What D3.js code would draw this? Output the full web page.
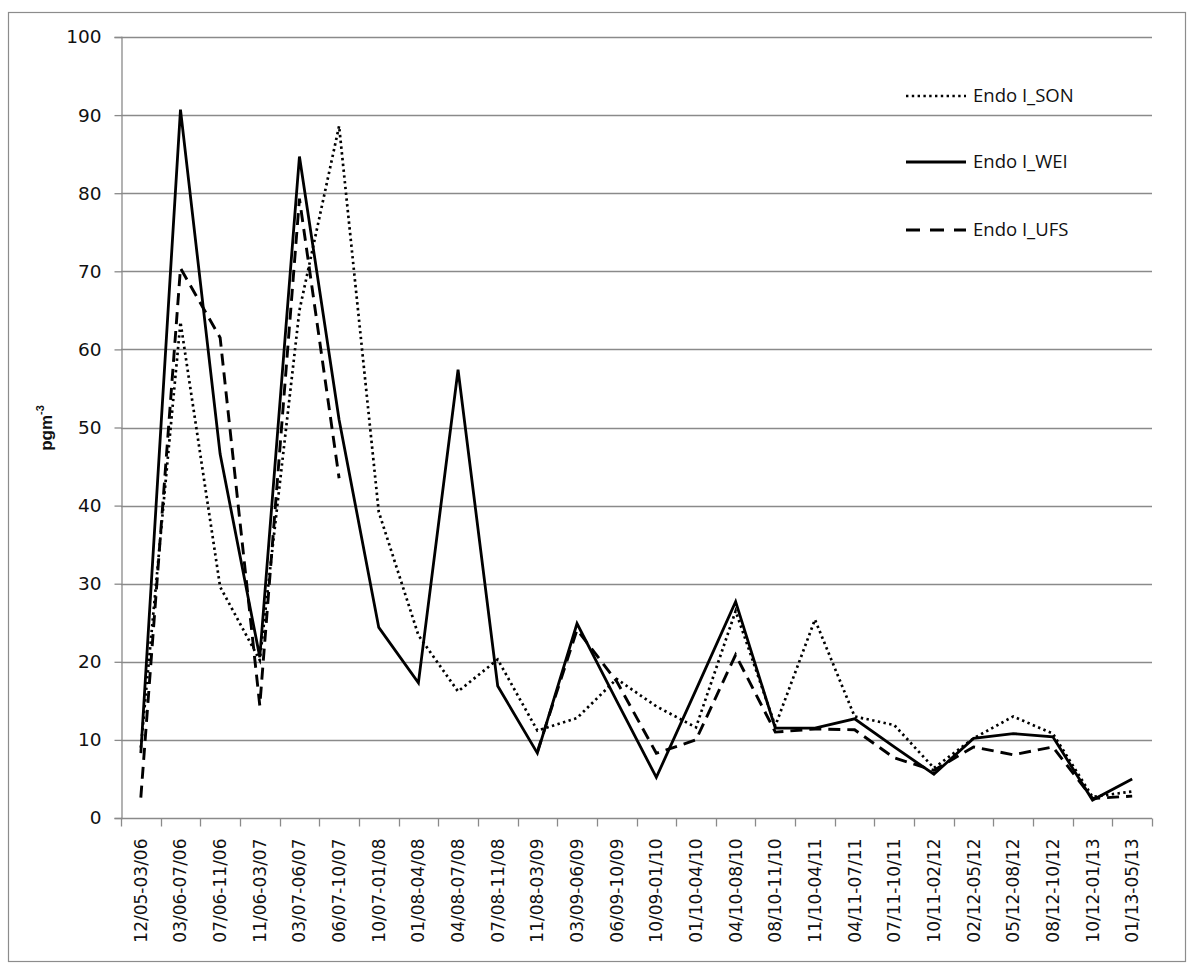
<!DOCTYPE html>
<html>
<head>
<meta charset="utf-8">
<script src="https://cdn.jsdelivr.net/npm/d3@7"></script>
<style>
  html, body { margin: 0; padding: 0; background: #fff; }
  svg { display: block; }
</style>
</head>
<body>
<svg id="chart" width="1191" height="965"></svg>
<script>
// Sampling periods (month/year ranges)
const periods = [
  "12/05-03/06", "03/06-07/06", "07/06-11/06", "11/06-03/07", "03/07-06/07",
  "06/07-10/07", "10/07-01/08", "01/08-04/08", "04/08-07/08", "07/08-11/08",
  "11/08-03/09", "03/09-06/09", "06/09-10/09", "10/09-01/10", "01/10-04/10",
  "04/10-08/10", "08/10-11/10", "11/10-04/11", "04/11-07/11", "07/11-10/11",
  "10/11-02/12", "02/12-05/12", "05/12-08/12", "08/12-10/12", "10/12-01/13",
  "01/13-05/13"
];

// Endosulfan I concentrations, pg/m3 (null = no sample)
const endoSON = [9, 63.5, 29.6, 20.2, 65, 88.6, 39.2, 23.4, 16.2, 20.3,
  11.2, 12.8, 17.8, 14.3, 11.6, 26.5, 11.8, 25.4, 13, 11.9,
  6.4, 10.2, 13, 10.8, 2.7, 3.4];
const endoWEI = [8.3, 90.7, 46.6, 20.6, 84.7, 51, 24.4, 17.3, 57.4, 16.9,
  8.3, 24.9, 15, 5.2, 16.4, 27.7, 11.5, 11.5, 12.7, 9.1,
  5.6, 10.2, 10.8, 10.4, 2.3, 5.0];
const endoUFS = [2.6, 70.4, 61.5, 14.4, 79.3, 43.5, null, null, null, null,
  8.5, 24.1, 17.5, 8.3, 10.0, 20.9, 11.0, 11.4, 11.3, 7.7,
  6.1, 9.1, 8.1, 9.1, 2.5, 2.8];

const yTicks = [0, 10, 20, 30, 40, 50, 60, 70, 80, 90, 100];

const seriesNames = ["Endo I_SON", "Endo I_WEI", "Endo I_UFS"];
const seriesValues = [endoSON, endoWEI, endoUFS];
const seriesDash = ["2.4,3.4", null, "12,7"];
const seriesWidth = [2.7, 2.8, 2.9];
const legendDash = ["2.4,3.4", null, "14,10"];

const svg = d3.select("#chart");
const margin = { left: 121, right: 1152, top: 37, bottom: 818 };

// Outer chart frame
svg.append("rect")
  .attr("x", 8.5).attr("y", 12.5)
  .attr("width", 1177).attr("height", 949)
  .attr("fill", "#fff").attr("stroke", "#8c8c8c").attr("stroke-width", 1.2);

const x = d3.scaleBand().domain(periods).range([margin.left, margin.right]);
const y = d3.scaleLinear().domain([0, 100]).range([margin.bottom, margin.top]);

const gridColor = "#8a8a8a";

// Horizontal gridlines
svg.append("g")
  .selectAll("line")
  .data(yTicks.filter(d => d > 0))
  .join("line")
  .attr("x1", margin.left).attr("x2", margin.right)
  .attr("y1", d => Math.round(y(d)) + 0.5).attr("y2", d => Math.round(y(d)) + 0.5)
  .attr("stroke", gridColor).attr("stroke-width", 1.3);

// Y axis
const yAxis = svg.append("g")
  .attr("transform", `translate(${margin.left + 0.5},0)`)
  .call(d3.axisLeft(y).tickValues(yTicks).tickSize(7).tickPadding(13).tickFormat(d3.format("d")));
yAxis.select(".domain").attr("stroke", gridColor).attr("stroke-width", 1.3);
yAxis.selectAll(".tick line").attr("stroke", gridColor).attr("stroke-width", 1.3);
yAxis.selectAll(".tick text")
  .attr("font-family", "DejaVu Sans, Verdana, sans-serif")
  .attr("font-size", 18.5).attr("fill", "#111");

// X axis with boundary ticks between periods
const xAxisG = svg.append("g").attr("transform", `translate(0,${margin.bottom + 0.5})`);
xAxisG.append("line")
  .attr("x1", margin.left).attr("x2", margin.right)
  .attr("stroke", gridColor).attr("stroke-width", 1.3);
const bounds = d3.range(periods.length + 1).map(i => margin.left + i * x.step());
xAxisG.selectAll("line.b")
  .data(bounds).join("line").attr("class", "b")
  .attr("x1", d => Math.round(d) + 0.5).attr("x2", d => Math.round(d) + 0.5)
  .attr("y1", 0).attr("y2", 8)
  .attr("stroke", gridColor).attr("stroke-width", 1.3);
xAxisG.selectAll("text")
  .data(periods).join("text")
  .attr("transform", d => `translate(${x(d) + x.bandwidth() / 2 + 6},${20}) rotate(-90)`)
  .attr("text-anchor", "end")
  .attr("font-family", "DejaVu Sans, Verdana, sans-serif")
  .attr("font-size", 17).attr("fill", "#111")
  .text(d => d);

// Y axis title
const yTitle = svg.append("text")
  .attr("transform", "translate(52,428) rotate(-90)")
  .attr("text-anchor", "middle")
  .attr("font-family", "Liberation Sans, Arial, sans-serif")
  .attr("font-weight", "bold").attr("font-size", 17).attr("fill", "#111");
yTitle.append("tspan").text("pgm");
yTitle.append("tspan").attr("dy", -8).attr("font-size", 11).text("-3");

// Series lines
const line = d3.line()
  .defined(d => d.v !== null)
  .x(d => x(d.p) + x.bandwidth() / 2)
  .y(d => y(d.v));

seriesValues.forEach((vals, i) => {
  const pts = periods.map((p, k) => ({ p, v: vals[k] }));
  svg.append("path")
    .datum(pts)
    .attr("d", line)
    .attr("fill", "none")
    .attr("stroke", "#000")
    .attr("stroke-width", seriesWidth[i])
    .attr("stroke-linejoin", "miter")
    .attr("stroke-dasharray", seriesDash[i]);
});

// Legend
const legendY = [96, 162, 230];
const legend = svg.append("g");
seriesNames.forEach((name, i) => {
  legend.append("line")
    .attr("x1", 906).attr("x2", 966)
    .attr("y1", legendY[i]).attr("y2", legendY[i])
    .attr("stroke", "#000").attr("stroke-width", seriesWidth[i])
    .attr("stroke-dasharray", legendDash[i]);
  legend.append("text")
    .attr("x", 973).attr("y", legendY[i] + 6)
    .attr("font-family", "Open Sans, Liberation Sans, sans-serif")
    .attr("font-size", 18.5).attr("fill", "#111")
    .text(name);
});
</script>
</body>
</html>
